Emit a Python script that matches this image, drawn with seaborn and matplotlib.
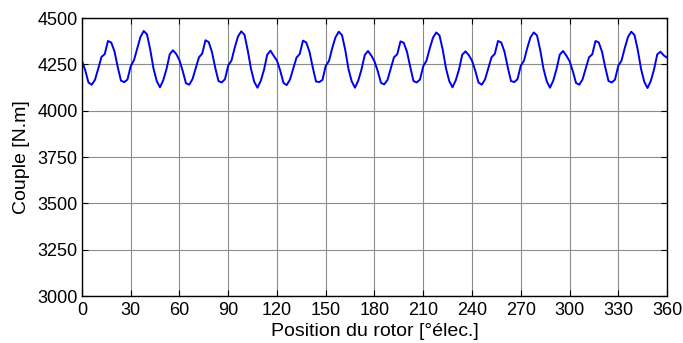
import matplotlib
matplotlib.use('Agg')
import matplotlib.pyplot as plt
import numpy as np
import pandas as pd
import seaborn as sns

# Couple relevé tous les 2° électriques (une période de 60° par liste)
couple_p1 = [4268, 4218, 4152, 4140, 4166, 4226, 4290, 4305, 4376, 4368, 4320, 4236, 4162, 4154, 4168,
             4240, 4272, 4336, 4398, 4430, 4412, 4330, 4228, 4160, 4126, 4164, 4224, 4304, 4326, 4306]
couple_p2 = [4272, 4214, 4148, 4140, 4170, 4230, 4288, 4308, 4380, 4370, 4316, 4232, 4160, 4152, 4170,
             4244, 4270, 4340, 4400, 4428, 4410, 4326, 4226, 4156, 4124, 4160, 4220, 4302, 4324, 4296]
couple_p3 = [4270, 4216, 4150, 4138, 4168, 4228, 4286, 4306, 4378, 4368, 4318, 4234, 4158, 4154, 4166,
             4242, 4268, 4338, 4396, 4426, 4408, 4328, 4224, 4158, 4124, 4162, 4222, 4300, 4322, 4298]
couple_p4 = [4266, 4214, 4150, 4142, 4166, 4226, 4288, 4304, 4374, 4366, 4318, 4236, 4160, 4152, 4168,
             4240, 4270, 4336, 4394, 4422, 4406, 4328, 4228, 4160, 4126, 4164, 4222, 4302, 4320, 4300]
couple_p5 = [4270, 4216, 4152, 4140, 4168, 4228, 4288, 4306, 4376, 4368, 4318, 4234, 4160, 4154, 4170,
             4242, 4270, 4338, 4396, 4422, 4406, 4326, 4226, 4158, 4124, 4162, 4224, 4302, 4322, 4298]
couple_p6 = [4268, 4214, 4150, 4140, 4168, 4228, 4288, 4304, 4376, 4368, 4318, 4234, 4160, 4152, 4168,
             4242, 4270, 4338, 4398, 4426, 4408, 4328, 4226, 4156, 4122, 4160, 4222, 4304, 4318, 4298]
couple_fin = [4286]

position = np.arange(0, 361, 2)
yticks = [3000, 3250, 3500, 3750, 4000, 4250, 4500]
xticks = [0, 30, 60, 90, 120, 150, 180, 210, 240, 270, 300, 330, 360]

df = pd.DataFrame({
    'position': position,
    'couple': couple_p1 + couple_p2 + couple_p3 + couple_p4 + couple_p5 + couple_p6 + couple_fin,
})

sns.set_theme(style='white')
plt.rcParams['font.family'] = ['Liberation Sans', 'DejaVu Sans']

fig = plt.figure(figsize=(6.83, 3.43), dpi=100)
ax = fig.add_axes([0.12, 0.137, 0.8566, 0.8105])

sns.lineplot(data=df, x='position', y='couple', ax=ax, color='#0000f0', linewidth=1.4)

ax.set_xlim(0, 360)
ax.set_ylim(3000, 4500)
ax.set_xticks(xticks)
ax.set_yticks(yticks)
ax.grid(True, color='#8c8c8c', linewidth=0.8)
ax.set_axisbelow(True)

for s in ax.spines.values():
    s.set_color('black')
    s.set_linewidth(1.0)

ax.tick_params(direction='in', length=4, width=0.8, top=True, right=True, labelsize=13,
               colors='black', labelcolor='black', bottom=True, left=True)
ax.tick_params(axis='x', pad=4)
ax.tick_params(axis='y', pad=3)
ax.set_xlabel('Position du rotor [°élec.]', fontsize=14, labelpad=3, color='black')
ax.set_ylabel('Couple [N.m]', fontsize=14, labelpad=5, color='black')

fig.savefig('out.png', dpi=100)
